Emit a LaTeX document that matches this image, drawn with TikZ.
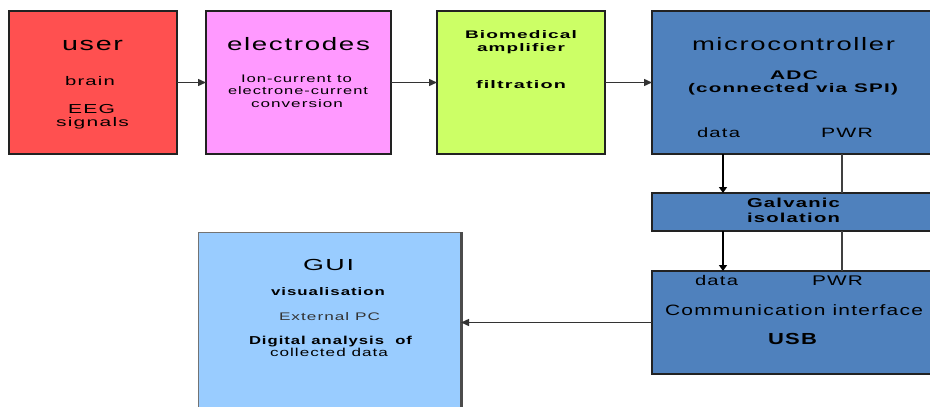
\documentclass[tikz,border=0pt]{standalone}
\usepackage{fontspec}
\usepackage{graphicx}
\setmainfont{Liberation Sans}
\usetikzlibrary{arrows.meta}
\definecolor{cred}{HTML}{FF5050}
\definecolor{cpink}{HTML}{FF99FF}
\definecolor{clime}{HTML}{CCFF66}
\definecolor{cblue}{HTML}{4F81BD}
\definecolor{clight}{HTML}{99CCFF}
\definecolor{cline}{HTML}{222222}
\newlength\fwlen
% #1 target width (px), #2 font size, #3 text
\newcommand\fw[3]{\fontsize{#2}{#2}\selectfont\addfontfeatures{LetterSpace=6}\settowidth\fwlen{#3}\scalebox{\fpeval{(#1pt)/(\the\fwlen)}}[1]{#3}}
\newcommand\fb[3]{\bfseries\fw{#1}{#2}{#3}}
\tikzset{
  box/.style={draw=cline, line width=1.3pt, inner sep=0pt, outer sep=0pt},
  lbl/.style={anchor=base, inner sep=0pt, outer sep=0pt, text=black},
  arr/.style={draw=black!80, line width=1.4pt, -{Triangle[length=8pt,width=7pt]}},
  darr/.style={draw=black, line width=1.8pt, -{Triangle[length=6pt,width=8pt]}},
  pwr/.style={draw=black!75, line width=2pt}
}
\begin{document}
\begin{tikzpicture}[x=1pt,y=-1pt]
\useasboundingbox (0,0) rectangle (930,407);
\clip (0,0) rectangle (930,407);
% boxes
\node[box, fill=cred, minimum width=168, minimum height=143] (user) at (93,82.5) {};
\node[box, fill=cpink, minimum width=185, minimum height=143] (elec) at (298.5,82.5) {};
\node[box, fill=clime, minimum width=168, minimum height=143] (bio) at (521,82.5) {};
\node[box, fill=cblue, minimum width=283, minimum height=143] (micro) at (793.5,82.5) {};
\node[box, fill=cblue, minimum width=283, minimum height=38] (galv) at (793.5,212) {};
\node[box, fill=cblue, minimum width=283, minimum height=103] (comm) at (793.5,322.5) {};
\node[box, draw=black!55, line width=1pt, fill=clight, minimum width=263, minimum height=188] (gui) at (329.5,326) {};
\draw[black!70, line width=3pt] (gui.north east) -- (gui.south east);
% coordinates for vertical lines
\coordinate (dx) at (723,0);
\coordinate (px) at (842,0);
% connectors
\draw[arr] (user.east) -- (elec.west);
\draw[arr] (elec.east) -- (bio.west);
\draw[arr] (bio.east) -- (micro.west);
\draw[darr] (micro.south -| dx) -- (galv.north -| dx);
\draw[darr] (galv.south -| dx) -- (comm.north -| dx);
\draw[pwr] (micro.south -| px) -- (galv.north -| px);
\draw[pwr] (galv.south -| px) -- (comm.north -| px);
\draw[arr] (comm.west) -- (comm.west -| gui.east);
% user texts
\node[lbl] (t-user) at (92.5,50) {\fw{61}{19}{user}};
\node[lbl] (t-brain) at (90,85) {\fw{50}{12.5}{brain}};
\node[lbl] (t-eeg) at (91.5,113) {\fw{47}{13}{EEG}};
\node[lbl] (t-sig) at (92.5,126) {\fw{73}{12.5}{signals}};
% electrodes
\node[lbl] (t-elec) at (298.5,50) {\fw{143}{18}{electrodes}};
\node[lbl] (t-ion) at (296.5,82) {\fw{111}{11}{Ion-current to}};
\node[lbl] (t-eln) at (298,94.5) {\fw{140}{11}{electrone-current}};
\node[lbl] (t-conv) at (297,107) {\fw{92}{11}{conversion}};
% biomedical
\node[lbl] (t-bio) at (521,38.5) {\fb{112}{11}{Biomedical}};
\node[lbl] (t-amp) at (521,51.5) {\fb{88}{11}{amplifier}};
\node[lbl] (t-filt) at (521,88.5) {\fb{90}{11}{filtration}};
% microcontroller
\node[lbl] (t-mc) at (793.5,50) {\fw{203}{18}{microcontroller}};
\node[lbl] (t-adc) at (794,79) {\fb{48}{12.5}{ADC}};
\node[lbl] (t-spi) at (793,92.5) {\fb{210}{12.5}{(connected via SPI)}};
\node[lbl] (t-mdata) at (718.5,137) {\fw{43}{13.5}{data}};
\node[lbl] (t-mpwr) at (847,137) {\fw{52}{13.5}{PWR}};
% galvanic
\node[lbl] (t-galv) at (793.5,207.5) {\fb{93}{13}{Galvanic}};
\node[lbl] (t-iso) at (793.5,222) {\fb{93}{13}{isolation}};
% communication
\node[lbl] (t-cdata) at (716.5,285.5) {\fw{43}{14}{data}};
\node[lbl] (t-cpwr) at (837.5,285.5) {\fw{51}{14}{PWR}};
\node[lbl] (t-comm) at (794,315.5) {\fw{258}{15}{Communication interface}};
\node[lbl] (t-usb) at (792.5,344) {\fb{49}{16}{USB}};
% GUI
\node[lbl] (t-gui) at (328.5,270.5) {\fw{51}{16}{GUI}};
\node[lbl] (t-vis) at (328,295.5) {\fb{114}{11}{visualisation}};
\node[lbl, text=black!80] (t-ext) at (329.5,320.5) {\fw{101}{11}{External PC}};
\node[lbl] (t-dig) at (330.5,344) {\fb{163}{11.5}{Digital analysis \ of}};
\node[lbl] (t-col) at (329,356) {\fw{118}{11.5}{collected data}};
\end{tikzpicture}
\end{document}
